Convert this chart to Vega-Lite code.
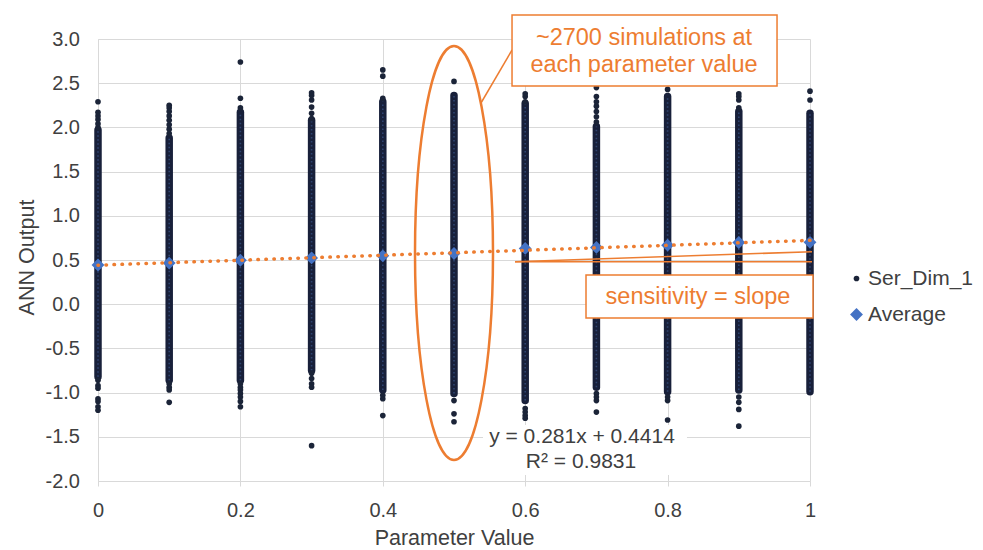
{
  "$schema": "https://vega.github.io/schema/vega-lite/v6.json",
  "width": 712,
  "height": 442,
  "autosize": {"type": "none"},
  "padding": {"left": 98, "top": 39, "right": 173, "bottom": 69},
  "background": "white",
  "config": {
    "view": {"stroke": null},
    "font": "Liberation Sans",
    "axis": {"labelFlush": false, "labelOverlap": false},
    "legend": {
      "orient": "none",
      "legendX": 748,
      "legendY": 229,
      "padding": 0,
      "labelFontSize": 21,
      "labelColor": "#404040",
      "labelFont": "Liberation Sans",
      "rowPadding": 14,
      "labelOffset": 1
    }
  },
  "datasets": {
    "dense": [
      {"x": 0.0, "lo": -0.82, "hi": 1.97},
      {"x": 0.1, "lo": -0.86, "hi": 1.88},
      {"x": 0.2, "lo": -0.86, "hi": 2.17},
      {"x": 0.3, "lo": -0.75, "hi": 2.08},
      {"x": 0.4, "lo": -0.97, "hi": 2.29},
      {"x": 0.5, "lo": -1.01, "hi": 2.36},
      {"x": 0.6, "lo": -1.09, "hi": 2.27},
      {"x": 0.7, "lo": -0.94, "hi": 2.01},
      {"x": 0.8, "lo": -0.99, "hi": 2.35},
      {"x": 0.9, "lo": -0.97, "hi": 2.18},
      {"x": 1.0, "lo": -0.99, "hi": 2.16}
    ],
    "pts": [
      {"x": 0.0, "y": 2.0, "series": "Ser_Dim_1"},
      {"x": 0.0, "y": 2.04, "series": "Ser_Dim_1"},
      {"x": 0.0, "y": 2.09, "series": "Ser_Dim_1"},
      {"x": 0.0, "y": 2.13, "series": "Ser_Dim_1"},
      {"x": 0.0, "y": 2.17, "series": "Ser_Dim_1"},
      {"x": 0.0, "y": 2.29, "series": "Ser_Dim_1"},
      {"x": 0.0, "y": -0.86, "series": "Ser_Dim_1"},
      {"x": 0.0, "y": -0.92, "series": "Ser_Dim_1"},
      {"x": 0.0, "y": -0.95, "series": "Ser_Dim_1"},
      {"x": 0.0, "y": -1.07, "series": "Ser_Dim_1"},
      {"x": 0.0, "y": -1.1, "series": "Ser_Dim_1"},
      {"x": 0.0, "y": -1.16, "series": "Ser_Dim_1"},
      {"x": 0.0, "y": -1.2, "series": "Ser_Dim_1"},
      {"x": 0.1, "y": 1.93, "series": "Ser_Dim_1"},
      {"x": 0.1, "y": 1.98, "series": "Ser_Dim_1"},
      {"x": 0.1, "y": 2.03, "series": "Ser_Dim_1"},
      {"x": 0.1, "y": 2.08, "series": "Ser_Dim_1"},
      {"x": 0.1, "y": 2.13, "series": "Ser_Dim_1"},
      {"x": 0.1, "y": 2.18, "series": "Ser_Dim_1"},
      {"x": 0.1, "y": 2.22, "series": "Ser_Dim_1"},
      {"x": 0.1, "y": 2.25, "series": "Ser_Dim_1"},
      {"x": 0.1, "y": -0.9, "series": "Ser_Dim_1"},
      {"x": 0.1, "y": -0.94, "series": "Ser_Dim_1"},
      {"x": 0.1, "y": -0.97, "series": "Ser_Dim_1"},
      {"x": 0.1, "y": -1.11, "series": "Ser_Dim_1"},
      {"x": 0.2, "y": 2.22, "series": "Ser_Dim_1"},
      {"x": 0.2, "y": 2.33, "series": "Ser_Dim_1"},
      {"x": 0.2, "y": 2.74, "series": "Ser_Dim_1"},
      {"x": 0.2, "y": -0.9, "series": "Ser_Dim_1"},
      {"x": 0.2, "y": -0.94, "series": "Ser_Dim_1"},
      {"x": 0.2, "y": -0.97, "series": "Ser_Dim_1"},
      {"x": 0.2, "y": -1.01, "series": "Ser_Dim_1"},
      {"x": 0.2, "y": -1.05, "series": "Ser_Dim_1"},
      {"x": 0.2, "y": -1.1, "series": "Ser_Dim_1"},
      {"x": 0.2, "y": -1.16, "series": "Ser_Dim_1"},
      {"x": 0.3, "y": 2.1, "series": "Ser_Dim_1"},
      {"x": 0.3, "y": 2.16, "series": "Ser_Dim_1"},
      {"x": 0.3, "y": 2.23, "series": "Ser_Dim_1"},
      {"x": 0.3, "y": 2.31, "series": "Ser_Dim_1"},
      {"x": 0.3, "y": 2.36, "series": "Ser_Dim_1"},
      {"x": 0.3, "y": 2.39, "series": "Ser_Dim_1"},
      {"x": 0.3, "y": -0.78, "series": "Ser_Dim_1"},
      {"x": 0.3, "y": -0.84, "series": "Ser_Dim_1"},
      {"x": 0.3, "y": -0.9, "series": "Ser_Dim_1"},
      {"x": 0.3, "y": -0.94, "series": "Ser_Dim_1"},
      {"x": 0.3, "y": -1.6, "series": "Ser_Dim_1"},
      {"x": 0.4, "y": 2.33, "series": "Ser_Dim_1"},
      {"x": 0.4, "y": 2.58, "series": "Ser_Dim_1"},
      {"x": 0.4, "y": 2.65, "series": "Ser_Dim_1"},
      {"x": 0.4, "y": -1.03, "series": "Ser_Dim_1"},
      {"x": 0.4, "y": -1.07, "series": "Ser_Dim_1"},
      {"x": 0.4, "y": -1.26, "series": "Ser_Dim_1"},
      {"x": 0.5, "y": 2.52, "series": "Ser_Dim_1"},
      {"x": 0.5, "y": -1.09, "series": "Ser_Dim_1"},
      {"x": 0.5, "y": -1.24, "series": "Ser_Dim_1"},
      {"x": 0.5, "y": -1.33, "series": "Ser_Dim_1"},
      {"x": 0.6, "y": 2.29, "series": "Ser_Dim_1"},
      {"x": 0.6, "y": 2.35, "series": "Ser_Dim_1"},
      {"x": 0.6, "y": 2.38, "series": "Ser_Dim_1"},
      {"x": 0.6, "y": -1.18, "series": "Ser_Dim_1"},
      {"x": 0.6, "y": -1.22, "series": "Ser_Dim_1"},
      {"x": 0.6, "y": -1.26, "series": "Ser_Dim_1"},
      {"x": 0.6, "y": -1.29, "series": "Ser_Dim_1"},
      {"x": 0.7, "y": 2.06, "series": "Ser_Dim_1"},
      {"x": 0.7, "y": 2.12, "series": "Ser_Dim_1"},
      {"x": 0.7, "y": 2.18, "series": "Ser_Dim_1"},
      {"x": 0.7, "y": 2.24, "series": "Ser_Dim_1"},
      {"x": 0.7, "y": 2.29, "series": "Ser_Dim_1"},
      {"x": 0.7, "y": 2.35, "series": "Ser_Dim_1"},
      {"x": 0.7, "y": 2.45, "series": "Ser_Dim_1"},
      {"x": 0.7, "y": -1.01, "series": "Ser_Dim_1"},
      {"x": 0.7, "y": -1.05, "series": "Ser_Dim_1"},
      {"x": 0.7, "y": -1.09, "series": "Ser_Dim_1"},
      {"x": 0.7, "y": -1.22, "series": "Ser_Dim_1"},
      {"x": 0.8, "y": 2.43, "series": "Ser_Dim_1"},
      {"x": 0.8, "y": -1.05, "series": "Ser_Dim_1"},
      {"x": 0.8, "y": -1.09, "series": "Ser_Dim_1"},
      {"x": 0.8, "y": -1.31, "series": "Ser_Dim_1"},
      {"x": 0.9, "y": 2.22, "series": "Ser_Dim_1"},
      {"x": 0.9, "y": 2.31, "series": "Ser_Dim_1"},
      {"x": 0.9, "y": 2.35, "series": "Ser_Dim_1"},
      {"x": 0.9, "y": 2.38, "series": "Ser_Dim_1"},
      {"x": 0.9, "y": -1.05, "series": "Ser_Dim_1"},
      {"x": 0.9, "y": -1.11, "series": "Ser_Dim_1"},
      {"x": 0.9, "y": -1.19, "series": "Ser_Dim_1"},
      {"x": 0.9, "y": -1.38, "series": "Ser_Dim_1"},
      {"x": 1.0, "y": 2.31, "series": "Ser_Dim_1"},
      {"x": 1.0, "y": 2.41, "series": "Ser_Dim_1"}
    ],
    "avg": [
      {"x": 0.0, "y": 0.443, "series": "Average"},
      {"x": 0.1, "y": 0.465, "series": "Average"},
      {"x": 0.2, "y": 0.497, "series": "Average"},
      {"x": 0.3, "y": 0.524, "series": "Average"},
      {"x": 0.4, "y": 0.547, "series": "Average"},
      {"x": 0.5, "y": 0.574, "series": "Average"},
      {"x": 0.6, "y": 0.631, "series": "Average"},
      {"x": 0.7, "y": 0.642, "series": "Average"},
      {"x": 0.8, "y": 0.668, "series": "Average"},
      {"x": 0.9, "y": 0.698, "series": "Average"},
      {"x": 1.0, "y": 0.7, "series": "Average"}
    ],
    "trend": [
      {"x": 0, "y": 0.4414},
      {"x": 1, "y": 0.7224}
    ]
  },
  "layer": [
    {
      "data": {"values": [{}]},
      "mark": {"type": "rect", "fill": "white", "strokeWidth": 0},
      "encoding": {
        "x": {"datum": 0.5407, "type": "quantitative"},
        "x2": {"datum": 0.8272},
        "y": {"datum": -1.366, "type": "quantitative"},
        "y2": {"datum": -1.932}
      }
    },
    {
      "data": {"name": "dense"},
      "mark": {"type": "rule", "stroke": "#18203a", "strokeWidth": 7.5, "strokeCap": "round"},
      "encoding": {
        "x": {
          "field": "x",
          "type": "quantitative",
          "scale": {"domain": [0, 1], "nice": false, "zero": false},
          "axis": {
            "title": "Parameter Value",
            "values": [0, 0.2, 0.4, 0.6, 0.8, 1],
            "format": "~g",
            "grid": true,
            "gridColor": "#d9d9d9",
            "domainColor": "#d9d9d9",
            "tickColor": "#d9d9d9",
            "tickSize": 5,
            "labelPadding": 14,
            "labelFontSize": 20,
            "labelColor": "#404040",
            "titleFontSize": 21.5,
            "titleFontWeight": "normal",
            "titleColor": "#404040",
            "titleY": 57,
            "titleBaseline": "middle"
          }
        },
        "y": {
          "field": "lo",
          "type": "quantitative",
          "scale": {"domain": [-2, 3], "nice": false, "zero": false},
          "axis": {
            "title": "ANN Output",
            "values": [-2, -1.5, -1, -0.5, 0, 0.5, 1, 1.5, 2, 2.5, 3],
            "labelExpr": "replace(format(datum.value, '.1f'), '\u2212', '-')",
            "grid": true,
            "gridColor": "#d9d9d9",
            "domainColor": "#d9d9d9",
            "ticks": false,
            "labelPadding": 18.5,
            "labelFontSize": 20,
            "labelColor": "#404040",
            "titleFontSize": 21.5,
            "titleFontWeight": "normal",
            "titleColor": "#404040",
            "titleX": -71,
            "titleY": 218,
            "titleAlign": "center",
            "titleBaseline": "middle"
          }
        },
        "y2": {"field": "hi"}
      }
    },
    {
      "data": {"name": "dense"},
      "mark": {"type": "rule", "stroke": "#2f4470", "strokeWidth": 1.6, "strokeDash": [1.5, 2.5]},
      "encoding": {
        "x": {"field": "x", "type": "quantitative"},
        "y": {"field": "lo", "type": "quantitative"},
        "y2": {"field": "hi"}
      }
    },
    {
      "data": {"name": "pts"},
      "mark": {"type": "point", "filled": true, "opacity": 1, "strokeWidth": 0},
      "encoding": {
        "x": {"field": "x", "type": "quantitative"},
        "y": {"field": "y", "type": "quantitative"},
        "color": {"field": "series", "type": "nominal", "scale": {"domain": ["Ser_Dim_1", "Average"], "range": ["#1b2438", "#4472c4"]}, "legend": {"title": null}},
        "shape": {"field": "series", "type": "nominal", "scale": {"domain": ["Ser_Dim_1", "Average"], "range": ["circle", "diamond"]}, "legend": {"title": null}},
        "size": {"field": "series", "type": "nominal", "scale": {"domain": ["Ser_Dim_1", "Average"], "range": [32, 165]}, "legend": {"title": null}}
      }
    },
    {
      "data": {"name": "avg"},
      "mark": {"type": "point", "filled": true, "opacity": 1, "strokeWidth": 0},
      "encoding": {
        "x": {"field": "x", "type": "quantitative"},
        "y": {"field": "y", "type": "quantitative"},
        "color": {"field": "series", "type": "nominal", "legend": {"title": null}},
        "shape": {"field": "series", "type": "nominal", "legend": {"title": null}},
        "size": {"field": "series", "type": "nominal", "legend": {"title": null}}
      }
    },
    {
      "data": {"name": "trend"},
      "mark": {"type": "line", "stroke": "#ed7d31", "strokeWidth": 3.5, "strokeDash": [0.5, 7.5], "strokeCap": "round"},
      "encoding": {
        "x": {"field": "x", "type": "quantitative"},
        "y": {"field": "y", "type": "quantitative"}
      }
    },
    {
      "data": {"values": [{}]},
      "mark": {"type": "point", "shape": "M0,-1A0.1884,1,0,1,1,0,1A0.1884,1,0,1,1,0,-1Z", "size": 171396, "filled": false, "stroke": "#ed7d31", "strokeWidth": 2.5, "opacity": 1},
      "encoding": {
        "x": {"datum": 0.5, "type": "quantitative"},
        "y": {"datum": 0.579, "type": "quantitative"}
      }
    },
    {
      "data": {"values": [{}]},
      "mark": {"type": "rule", "stroke": "#ed7d31", "strokeWidth": 1.5},
      "encoding": {
        "x": {"datum": 0.5815, "type": "quantitative"},
        "y": {"datum": 2.8756, "type": "quantitative"},
        "x2": {"datum": 0.5379},
        "y2": {"datum": 2.276}
      }
    },
    {
      "data": {"values": [{}]},
      "mark": {"type": "rule", "stroke": "#ed7d31", "strokeWidth": 1.5},
      "encoding": {
        "x": {"datum": 0.5857, "type": "quantitative"},
        "y": {"datum": 0.4808, "type": "quantitative"},
        "x2": {"datum": 1.0028},
        "y2": {"datum": 0.4808}
      }
    },
    {
      "data": {"values": [{}]},
      "mark": {"type": "rule", "stroke": "#ed7d31", "strokeWidth": 1.5},
      "encoding": {
        "x": {"datum": 0.5857, "type": "quantitative"},
        "y": {"datum": 0.4808, "type": "quantitative"},
        "x2": {"datum": 1.0028},
        "y2": {"datum": 0.594}
      }
    },
    {
      "data": {"values": [{}]},
      "mark": {"type": "rect", "fill": "white", "stroke": "#ed7d31", "strokeWidth": 1.5},
      "encoding": {
        "x": {"datum": 0.5815, "type": "quantitative"},
        "x2": {"datum": 0.9537},
        "y": {"datum": 3.2715, "type": "quantitative"},
        "y2": {"datum": 2.4683}
      }
    },
    {
      "data": {"values": [{}]},
      "mark": {"type": "text", "text": "~2700 simulations  at", "fontSize": 23.5, "color": "#ed7d31", "align": "center", "baseline": "middle"},
      "encoding": {
        "x": {"datum": 0.7669, "type": "quantitative"},
        "y": {"datum": 3.011, "type": "quantitative"}
      }
    },
    {
      "data": {"values": [{}]},
      "mark": {"type": "text", "text": "each parameter value", "fontSize": 23.5, "color": "#ed7d31", "align": "center", "baseline": "middle"},
      "encoding": {
        "x": {"datum": 0.7669, "type": "quantitative"},
        "y": {"datum": 2.706, "type": "quantitative"}
      }
    },
    {
      "data": {"values": [{}]},
      "mark": {"type": "rect", "fill": "white", "stroke": "#ed7d31", "strokeWidth": 1.5},
      "encoding": {
        "x": {"datum": 0.6854, "type": "quantitative"},
        "x2": {"datum": 1.0042},
        "y": {"datum": 0.3303, "type": "quantitative"},
        "y2": {"datum": -0.156}
      }
    },
    {
      "data": {"values": [{}]},
      "mark": {"type": "text", "text": "sensitivity = slope", "fontSize": 23.5, "color": "#ed7d31", "align": "center", "baseline": "middle"},
      "encoding": {
        "x": {"datum": 0.8427, "type": "quantitative"},
        "y": {"datum": 0.0814, "type": "quantitative"}
      }
    },
    {
      "data": {"values": [{}]},
      "mark": {"type": "text", "text": "y = 0.281x + 0.4414", "fontSize": 21, "color": "#404040", "align": "center", "baseline": "middle"},
      "encoding": {
        "x": {"datum": 0.6798, "type": "quantitative"},
        "y": {"datum": -1.502, "type": "quantitative"}
      }
    },
    {
      "data": {"values": [{}]},
      "mark": {"type": "text", "text": "R² = 0.9831", "fontSize": 21, "color": "#404040", "align": "center", "baseline": "middle"},
      "encoding": {
        "x": {"datum": 0.6784, "type": "quantitative"},
        "y": {"datum": -1.785, "type": "quantitative"}
      }
    }
  ]
}
